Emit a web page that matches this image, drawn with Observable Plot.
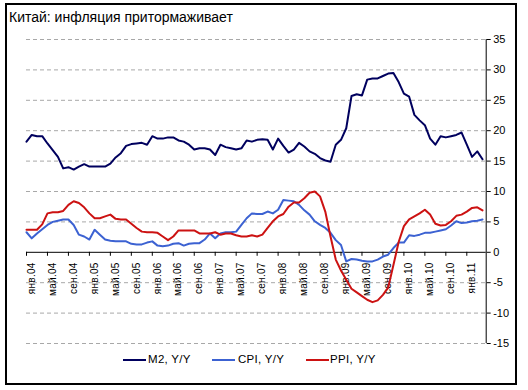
<!DOCTYPE html>
<html>
<head>
<meta charset="utf-8">
<script src="https://cdn.jsdelivr.net/npm/d3@7"></script>
<script src="https://cdn.jsdelivr.net/npm/@observablehq/plot@0.6"></script>
<style>
  body { margin: 0; background: #fff; }
  #wrap { position: relative; width: 528px; height: 390px; overflow: hidden;
          font-family: "Liberation Sans", Arial, sans-serif; color: #000; }
  #chart { position: absolute; left: 0; top: 0; }
  #frame { position: absolute; left: 5px; top: 3px; width: 508px; height: 378px;
           border: 2px solid #000; pointer-events: none; }
  #title { position: absolute; left: 9px; top: 9px; font-size: 14px; line-height: 16px; white-space: nowrap; }
  .sw { position: absolute; height: 2px; }
  .lt { position: absolute; font-size: 11.5px; line-height: 13px; white-space: nowrap; letter-spacing: 0.3px; }
  .xlab text { letter-spacing: 0.3px; }
</style>
</head>
<body>
<div id="wrap">
  <div id="chart"></div>
  <div id="frame"></div>
  <div id="title">Китай: инфляция притормаживает</div>
  <div id="legend"></div>
</div>
<script>
// Monthly series, Jan 2004 .. Apr 2011 (index 0..87)
const m2 = [
  18.2, 19.3, 19.1, 19.1, 17.9, 16.8, 15.7, 13.8, 14.0, 13.6, 14.1, 14.5,
  14.1, 14.1, 14.1, 14.1, 14.6, 15.6, 16.3, 17.5, 17.8, 17.9, 18.0, 17.7,
  19.1, 18.7, 18.7, 18.9, 18.9, 18.4, 18.2, 17.7, 16.9, 17.1, 17.1, 16.9,
  16.0, 17.7, 17.3, 17.1, 16.9, 17.1, 18.4, 18.2, 18.5, 18.6, 18.5, 16.9,
  18.7, 17.5, 16.4, 16.9, 18.0, 17.4, 16.6, 16.2, 15.5, 15.1, 14.9, 17.7,
  18.5, 20.4, 25.7, 26.0, 25.8, 28.4, 28.6, 28.6, 29.0, 29.4, 29.5, 28.0,
  26.1, 25.6, 22.6, 21.7, 20.9, 18.7, 17.7, 19.1, 18.9, 19.1, 19.3, 19.7,
  17.7, 15.7, 16.6, 15.3
];
const cpi = [
  3.3, 2.3, 3.1, 3.8, 4.5, 5.0, 5.2, 5.4, 5.4, 4.5, 2.9, 2.6,
  2.1, 3.7, 2.9, 2.1, 1.9, 1.8, 1.8, 1.8, 1.4, 1.3, 1.3, 1.6,
  1.8, 1.1, 1.0, 1.1, 1.4, 1.5, 1.1, 1.4, 1.5, 1.5, 2.1, 3.1,
  2.3, 3.1, 3.3, 3.3, 3.4, 4.5, 5.6, 6.4, 6.3, 6.3, 6.7, 6.4,
  7.0, 8.6, 8.5, 8.4, 7.8, 6.9, 6.2, 5.1, 4.5, 4.0, 3.2, 2.0,
  1.2, -1.5, -1.1, -1.2, -1.4, -1.5, -1.5, -1.2, -0.7, -0.4, 0.7, 1.6,
  1.6, 2.8, 2.7, 2.9, 3.2, 3.2, 3.4, 3.6, 3.8, 4.4, 5.1, 4.8,
  4.9, 5.1, 5.2, 5.4
];
const ppi = [
  3.7, 3.7, 3.7, 4.6, 6.4, 6.6, 6.6, 6.8, 7.8, 8.4, 8.1, 7.4,
  6.4, 5.6, 5.6, 5.9, 6.2, 5.5, 5.4, 5.4, 4.7, 4.0, 3.4, 3.3,
  3.3, 3.2, 2.6, 2.0, 2.6, 3.6, 3.6, 3.6, 3.6, 3.1, 3.1, 3.1,
  3.3, 2.9, 3.1, 3.1, 2.8, 2.6, 2.6, 2.8, 2.6, 2.9, 4.0, 5.1,
  5.9, 6.3, 7.5, 8.2, 8.2, 8.9, 9.8, 10.0, 9.2, 6.7, 2.6, -1.2,
  -3.0, -4.5, -6.0, -6.6, -7.2, -7.8, -8.2, -7.9, -7.0, -5.8, -2.1, 1.7,
  4.3, 5.4, 5.9, 6.4, 7.0, 6.2, 4.7, 4.4, 4.5, 5.1, 6.0, 6.2,
  6.7, 7.3, 7.4, 6.9
];
const tickLabels = [
  "янв.04", "май.04", "сен.04", "янв.05", "май.05", "сен.05",
  "янв.06", "май.06", "сен.06", "янв.07", "май.07", "сен.07",
  "янв.08", "май.08", "сен.08", "янв.09", "май.09", "сен.09",
  "янв.10", "май.10", "сен.10", "янв.11"
];
const tickStep = 4; // months between category labels
const yTicks = [-15, -10, -5, 0, 5, 10, 15, 20, 25, 30, 35];
const seriesNames = ["M2, Y/Y", "CPI, Y/Y", "PPI, Y/Y"];
const seriesColors = ["#00005e", "#3c62d2", "#cc1212"];

const rows = m2.map((v, i) => ({i, m2: v, cpi: cpi[i], ppi: ppi[i]}));
const xDomain = [0, m2.length - 0.3];
const tickIdx = tickLabels.map((_, k) => k * tickStep);

const chart = Plot.plot({
  width: 528,
  height: 360,
  marginTop: 39,
  marginBottom: 17,
  marginLeft: 26,
  marginRight: 42.3,
  style: {background: "transparent", fontFamily: "'Liberation Sans', Arial, sans-serif", color: "#000"},
  x: {domain: xDomain, axis: null},
  y: {domain: [d3.min(yTicks), d3.max(yTicks)], axis: null},
  marks: [
    Plot.ruleY(yTicks.filter(d => d !== 0), {stroke: "#a8a8a8", strokeDasharray: "4,3", strokeWidth: 1}),
    Plot.ruleY([0], {stroke: "#000", strokeWidth: 1}),
    Plot.ruleX([xDomain[1]], {stroke: "#000", strokeWidth: 1}),
    Plot.axisY({anchor: "right", ticks: yTicks, tickSize: 4, tickPadding: 3, fontSize: 11,
                tickFormat: d => String(d), label: null}),
    Plot.ruleX(tickIdx, {x: d => d, y1: 0, y2: 0, insetBottom: -4, stroke: "#000"}),
    Plot.text(tickIdx, {x: d => d, y: 0, text: (d, k) => tickLabels[k], rotate: -90,
                        textAnchor: "end", dy: 10, dx: 5, fontSize: 10, className: "xlab"}),
    Plot.line(rows, {x: "i", y: "cpi", stroke: seriesColors[1], strokeWidth: 2}),
    Plot.line(rows, {x: "i", y: "ppi", stroke: seriesColors[2], strokeWidth: 2}),
    Plot.line(rows, {x: "i", y: "m2", stroke: seriesColors[0], strokeWidth: 2})
  ]
});
document.getElementById("chart").appendChild(chart);

// Legend
const legendPos = [{sw: 123, tx: 148}, {sw: 212, tx: 238}, {sw: 306, tx: 330}];
const legend = document.getElementById("legend");
seriesNames.forEach((name, k) => {
  const sw = document.createElement("div");
  sw.className = "sw";
  sw.style.left = legendPos[k].sw + "px";
  sw.style.top = "359px";
  sw.style.width = "23px";
  sw.style.background = seriesColors[k];
  legend.appendChild(sw);
  const t = document.createElement("div");
  t.className = "lt";
  t.style.left = legendPos[k].tx + "px";
  t.style.top = "353px";
  t.textContent = name;
  legend.appendChild(t);
});
</script>
</body>
</html>
